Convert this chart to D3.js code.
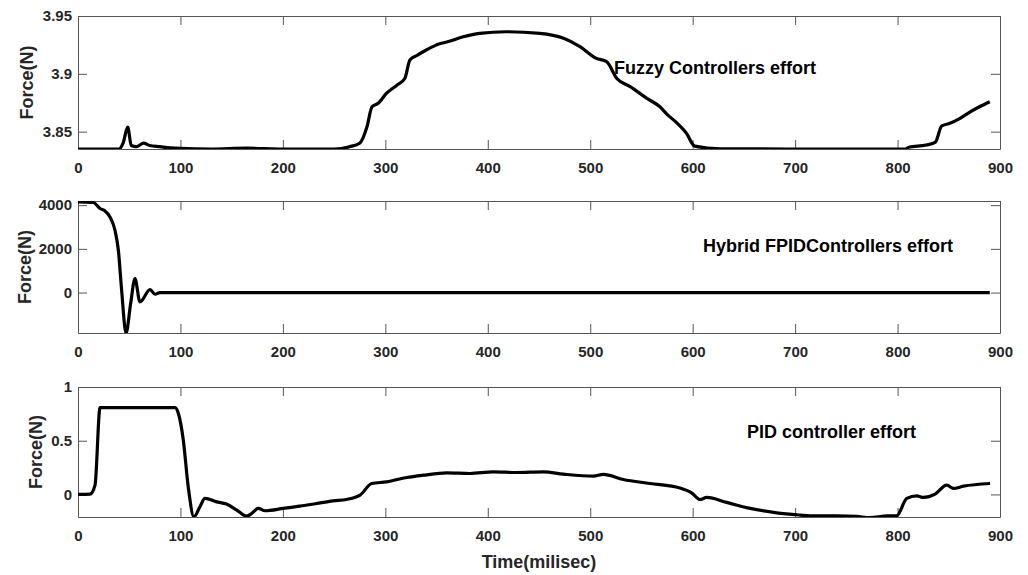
<!DOCTYPE html>
<html>
<head>
<meta charset="utf-8">
<script src="https://cdn.jsdelivr.net/npm/d3@7"></script>
<style>
  body { margin: 0; background: #fff; }
  svg { display: block; font-family: "Liberation Sans", Arial, sans-serif; }
  .tick text { font-size: 15px; font-weight: bold; fill: #262626; }
  .domain, .tick line { stroke: #555; stroke-width: 1; }
</style>
</head>
<body>
<svg id="chart" width="1028" height="575"></svg>
<script>
// time axis ticks (milisec)
const timeTicks = [0, 100, 200, 300, 400, 500, 600, 700, 800, 900];

// Fuzzy controller effort
const fuzzyTime = [0, 40, 44, 48.5, 52, 57, 64, 70, 80, 90, 100, 130, 165, 200, 250, 265, 275, 282, 287, 293,
  301, 311, 319, 324, 331, 340, 353, 360, 376, 392, 418, 451, 474, 490, 506, 516, 526, 539, 555, 568,
  575, 584, 594, 602, 627, 700, 808, 811, 828, 837, 843, 851, 861, 871, 880, 890];
const fuzzyForce = [3.835, 3.835, 3.840, 3.854, 3.838, 3.837, 3.840, 3.838, 3.837, 3.836, 3.8355, 3.835, 3.8357, 3.835, 3.835, 3.837, 3.840, 3.854, 3.8715, 3.8745,
  3.883, 3.890, 3.896, 3.912, 3.916, 3.9206, 3.926, 3.9275, 3.932, 3.935, 3.9364, 3.935, 3.9307, 3.9235, 3.9134, 3.9105, 3.896, 3.889, 3.879, 3.8715,
  3.865, 3.858, 3.8485, 3.8375, 3.8352, 3.835, 3.835, 3.8365, 3.8384, 3.841, 3.8549, 3.8572, 3.8615, 3.8672, 3.8715, 3.8759];
const fuzzyTicks = [3.85, 3.9, 3.95];

// Hybrid FPID controller effort
const hybridTime = [0, 15, 21.5, 26.4, 31.2, 36.1, 39.4, 42.6, 46.9, 51.4, 55.6, 60.5, 70.3, 75.2, 80, 890];
const hybridForce = [4150, 4120, 3845, 3735, 3460, 2850, 1936, 105, -1850, -503, 641, -430, 137, -78, 0, 0];
const hybridTicks = [0, 2000, 4000];

// PID controller effort
const pidTime = [0, 11.7, 16.6, 21.5, 94.7, 98, 102.8, 107.6, 113.2, 119, 124, 135.3, 145, 155, 164.7, 169.6, 176, 182.5, 200.4, 216.7,
  233, 249, 262, 275.3, 286.7, 301.3, 320.9, 337, 360, 382.7, 405.4, 428.2, 454.2, 473.8, 503, 512.8, 532.3, 558.3, 587.6, 599,
  607.2, 613.7, 633.2, 656, 682, 704.8, 714.6, 740, 760, 773, 790, 799, 809, 818.8, 825.3, 836.6, 848, 854.5, 864.3, 890.3];
const pidForce = [0, 0.003, 0.086, 0.808, 0.808, 0.753, 0.505, 0.07, -0.208, -0.115, -0.037, -0.069, -0.09, -0.146, -0.202, -0.177, -0.130, -0.152, -0.13, -0.109,
  -0.084, -0.06, -0.047, -0.007, 0.102, 0.117, 0.158, 0.179, 0.2, 0.195, 0.21, 0.204, 0.21, 0.189, 0.17, 0.186, 0.139, 0.102, 0.06, 0.015,
  -0.047, -0.028, -0.074, -0.13, -0.171, -0.192, -0.199, -0.2, -0.205, -0.215, -0.2, -0.2, -0.037, -0.013, -0.028, 0.003, 0.086, 0.056, 0.077, 0.102];
const pidTicks = [0, 0.5, 1];

const svg = d3.select("#chart");
const left = 78, right = 1000;
const x = d3.scaleLinear().domain([0, 900]).range([left, right]);

const panel = (top, bottom, domain, ticks, times, values, label, lx, ly, yLabelX, idx) => {
    const y = d3.scaleLinear().domain(domain).range([bottom, top]);
    const g = svg.append("g");

    g.append("clipPath").attr("id", "clip" + idx)
        .append("rect").attr("x", left).attr("y", top).attr("width", right - left).attr("height", bottom - top);

    // box with inside ticks
    g.append("g").attr("transform", `translate(0,${bottom})`)
        .call(d3.axisBottom(x).tickValues(timeTicks).tickSizeInner(-9).tickSizeOuter(0).tickPadding(13));
    g.append("g").attr("transform", `translate(0,${top})`)
        .call(d3.axisTop(x).tickValues(timeTicks).tickSizeInner(-9).tickSizeOuter(0).tickFormat(""));
    g.append("g").attr("transform", `translate(${left},0)`)
        .call(d3.axisLeft(y).tickValues(ticks).tickSizeInner(-9).tickSizeOuter(0).tickPadding(6).tickFormat(d3.format("")));
    g.append("g").attr("transform", `translate(${right},0)`)
        .call(d3.axisRight(y).tickValues(ticks).tickSizeInner(-9).tickSizeOuter(0).tickFormat(""));

    const line = d3.line()
        .x((d, i) => x(times[i]))
        .y(d => y(d))
        .curve(d3.curveMonotoneX);

    g.append("path")
        .datum(values)
        .attr("clip-path", `url(#clip${idx})`)
        .attr("fill", "none")
        .attr("stroke", "#000")
        .attr("stroke-width", 3.2)
        .attr("stroke-linejoin", "round")
        .attr("d", line);

    g.append("text")
        .attr("transform", `translate(${yLabelX},${(top + bottom) / 2}) rotate(-90)`)
        .attr("text-anchor", "middle")
        .style("font-size", "18px").style("font-weight", "bold").style("fill", "#262626")
        .text("Force(N)");

    g.append("text")
        .attr("x", lx).attr("y", ly)
        .style("font-size", "18px").style("font-weight", "bold").style("fill", "#000")
        .text(label);
};

panel(16, 149, [3.835, 3.95], fuzzyTicks, fuzzyTime, fuzzyForce, "Fuzzy Controllers effort", 614, 74, 33, 0);
panel(201, 333, [-1850, 4190], hybridTicks, hybridTime, hybridForce, "Hybrid FPIDControllers effort", 703, 252, 31, 1);
panel(387, 517, [-0.21, 1], pidTicks, pidTime, pidForce, "PID controller effort", 747, 438, 42, 2);

svg.append("text")
    .attr("x", (left + right) / 2).attr("y", 568)
    .attr("text-anchor", "middle")
    .style("font-size", "18px").style("font-weight", "bold").style("fill", "#262626")
    .text("Time(milisec)");
</script>
</body>
</html>
